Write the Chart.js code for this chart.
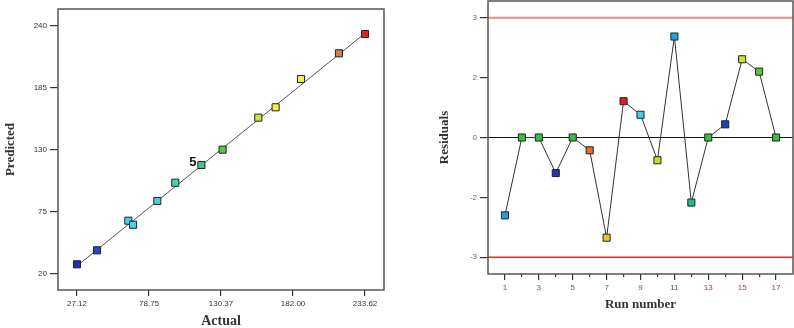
<!DOCTYPE html>
<html>
<head>
<meta charset="utf-8">
<script src="https://cdn.jsdelivr.net/npm/chart.js@4.4.1/dist/chart.umd.min.js"></script>
<style>
  html, body { margin: 0; padding: 0; background: #fff; }
  #wrap { position: relative; width: 794px; height: 328px; }
  #left { position: absolute; left: 0; top: 0; }
  #right { position: absolute; left: 400px; top: 0; }
</style>
</head>
<body>
<div id="wrap">
  <canvas id="left" width="400" height="328"></canvas>
  <canvas id="right" width="394" height="328"></canvas>
</div>
<script>
// Predicted vs. actual
const actual = [27.12, 41.5, 63.9, 67.3, 84.7, 97.6, 116.3, 131.5, 157.1, 169.5, 187.7, 214.9, 233.62];
const predicted = [28.6, 41.0, 67.3, 63.7, 84.8, 101.0, 116.7, 130.3, 158.7, 167.9, 193.0, 215.8, 232.9];
const pointColors = ['#1f2fb5', '#2a45c0', '#45d2e6', '#45d2e6', '#4ad0d0', '#45d8b8', '#3fc88a',
  '#55c845', '#c8e640', '#f2f040', '#f2ee4a', '#c8844a', '#e02424'];
const fitLine = [27.12, 233.62];
const actualTicks = [27.12, 78.75, 130.37, 182.00, 233.62];
const actualTickLabels = ['27.12', '78.75', '130.37', '182.00', '233.62'];
const predictedTicks = [20, 75, 130, 185, 240];
const replicateIndex = 6;
const replicateLabel = '5';

// Residuals vs. run
const runs = [1, 2, 3, 4, 5, 6, 7, 8, 9, 10, 11, 12, 13, 14, 15, 16, 17];
const residuals = [-1.95, 0, 0, -0.89, 0, -0.32, -2.51, 0.91, 0.57, -0.57, 2.53, -1.63, 0, 0.33, 1.96, 1.65, 0];
const runColors = ['#22a0e0', '#3cbf3c', '#3cbf3c', '#1f35a8', '#3cbf3c', '#e0702a', '#e6c822', '#d82020',
  '#48d0e0', '#c0e22a', '#22a0d8', '#22c080', '#3cbf3c', '#2240c0', '#d0e22a', '#5cc43c', '#3cbf3c'];
const residualTicks = [-3, -1.5, 0, 1.5, 3];
const residualTickLabels = ['-3', '-2', '0', '2', '3'];
const limitHigh = 3;
const limitLow = -3;

const serif = '"Liberation Serif", "DejaVu Serif", serif';
const sans = '"Liberation Sans", Arial, sans-serif';

// frame round the plot area
const boxPlugin = {
  id: 'box',
  afterDraw(chart) {
    const { ctx, chartArea } = chart;
    ctx.save();
    ctx.strokeStyle = '#555';
    ctx.lineWidth = 1.5;
    ctx.strokeRect(chartArea.left, chartArea.top, chartArea.right - chartArea.left, chartArea.bottom - chartArea.top);
    ctx.restore();
  }
};

// "5" next to the replicated design point
const replicatePlugin = {
  id: 'replicate',
  afterDatasetsDraw(chart) {
    const { ctx, scales } = chart;
    const x = scales.x.getPixelForValue(actual[replicateIndex]);
    const y = scales.y.getPixelForValue(predicted[replicateIndex]);
    ctx.save();
    ctx.fillStyle = '#111';
    ctx.font = 'bold 13px ' + sans;
    ctx.textAlign = 'right';
    ctx.textBaseline = 'middle';
    ctx.fillText(replicateLabel, x - 5, y - 3);
    ctx.restore();
  }
};

const fitX = (h) => (scale) => { scale.height = h; scale.paddingLeft = 0; scale.paddingRight = 0; };
const fitY = (w) => (scale) => { scale.width = w; scale.paddingTop = 0; scale.paddingBottom = 0; };

new Chart(document.getElementById('left'), {
  type: 'scatter',
  data: {
    datasets: [
      {
        type: 'line',
        data: fitLine.map(v => ({ x: v, y: v })),
        borderColor: '#555',
        borderWidth: 1,
        pointRadius: 0,
        order: 2
      },
      {
        data: actual.map((v, i) => ({ x: v, y: predicted[i] })),
        pointStyle: 'rect',
        pointRadius: 5,
        backgroundColor: pointColors,
        borderColor: '#222',
        borderWidth: 1,
        order: 1
      }
    ]
  },
  options: {
    responsive: false,
    animation: false,
    layout: { autoPadding: false, padding: { top: 9, right: 16, left: 0, bottom: 0 } },
    scales: {
      x: {
        type: 'linear',
        min: 13.5,
        max: 247.2,
        afterBuildTicks: (scale) => { scale.ticks = actualTicks.map(v => ({ value: v })); },
        afterFit: fitX(38),
        border: { display: false },
        grid: { drawOnChartArea: false, drawTicks: true, tickLength: 6, tickColor: '#333', lineWidth: 1.2 },
        ticks: {
          padding: 3,
          color: '#333',
          font: { family: sans, size: 8 },
          maxRotation: 0,
          callback: (value, i) => actualTickLabels[i]
        },
        title: {
          display: true,
          text: 'Actual',
          color: '#333',
          font: { family: serif, size: 14, weight: 'bold', lineHeight: 1 },
          padding: { top: 0, bottom: 0 }
        }
      },
      y: {
        type: 'linear',
        min: 5.8,
        max: 255.1,
        afterBuildTicks: (scale) => { scale.ticks = predictedTicks.map(v => ({ value: v })); },
        afterFit: fitY(58),
        border: { display: false },
        grid: { drawOnChartArea: false, drawTicks: true, tickLength: 8, tickColor: '#333', lineWidth: 1.2 },
        ticks: {
          padding: 3,
          color: '#333',
          font: { family: sans, size: 8 }
        },
        title: {
          display: true,
          text: 'Predicted',
          color: '#333',
          font: { family: serif, size: 13, weight: 'bold', lineHeight: 1.2 },
          padding: { top: 3, bottom: 0 }
        }
      }
    },
    plugins: { legend: { display: false }, tooltip: { enabled: false } }
  },
  plugins: [boxPlugin, replicatePlugin]
});

new Chart(document.getElementById('right'), {
  type: 'line',
  data: {
    datasets: [
      {
        data: runs.map((r, i) => ({ x: r, y: residuals[i] })),
        borderColor: '#333',
        borderWidth: 1,
        pointStyle: 'rect',
        pointRadius: 5,
        pointBackgroundColor: runColors,
        pointBorderColor: '#222',
        pointBorderWidth: 1,
        tension: 0,
        order: 1
      },
      {
        data: [{ x: 0, y: 0 }, { x: 18, y: 0 }],
        borderColor: '#111',
        borderWidth: 1,
        pointRadius: 0,
        order: 2
      },
      {
        data: [{ x: 0, y: limitHigh }, { x: 18, y: limitHigh }],
        borderColor: '#f08a8a',
        borderWidth: 2,
        pointRadius: 0,
        order: 3
      },
      {
        data: [{ x: 0, y: limitLow }, { x: 18, y: limitLow }],
        borderColor: '#e02a2a',
        borderWidth: 1.5,
        pointRadius: 0,
        order: 3
      }
    ]
  },
  options: {
    responsive: false,
    animation: false,
    layout: { autoPadding: false, padding: { top: 1, right: 1, left: 0, bottom: 0 } },
    scales: {
      x2: {
        type: 'linear',
        position: 'bottom',
        weight: 0,
        min: 0,
        max: 18,
        afterBuildTicks: (scale) => { scale.ticks = runs.filter(r => r % 2 === 0).map(v => ({ value: v })); },
        afterFit: fitX(0),
        border: { display: false },
        grid: { drawOnChartArea: false, drawTicks: true, tickLength: 3, tickColor: '#333', lineWidth: 1.2 },
        ticks: { display: false }
      },
      x: {
        type: 'linear',
        position: 'bottom',
        weight: 1,
        min: 0,
        max: 18,
        afterBuildTicks: (scale) => { scale.ticks = runs.filter(r => r % 2 === 1).map(v => ({ value: v })); },
        afterFit: fitX(54),
        border: { display: false },
        grid: { drawOnChartArea: false, drawTicks: true, tickLength: 6, tickColor: '#333', lineWidth: 1.2 },
        ticks: {
          padding: 3,
          color: '#8a4848',
          font: { family: sans, size: 8 },
          maxRotation: 0
        },
        title: {
          display: true,
          text: 'Run number',
          color: '#333',
          font: { family: serif, size: 13, weight: 'bold', lineHeight: 1.2 },
          padding: { top: 0, bottom: 16 }
        }
      },
      y: {
        type: 'linear',
        min: -3.42,
        max: 3.42,
        afterBuildTicks: (scale) => { scale.ticks = residualTicks.map(v => ({ value: v })); },
        afterFit: fitY(88),
        border: { display: false },
        grid: { drawOnChartArea: false, drawTicks: true, tickLength: 8, tickColor: '#333', lineWidth: 1.2 },
        ticks: {
          padding: 3,
          color: '#666',
          font: { family: sans, size: 8 },
          callback: (value) => residualTickLabels[residualTicks.indexOf(value)]
        },
        title: {
          display: true,
          text: 'Residuals',
          color: '#333',
          font: { family: serif, size: 13, weight: 'bold', lineHeight: 1.2 },
          padding: { top: 37, bottom: 0 }
        }
      }
    },
    plugins: { legend: { display: false }, tooltip: { enabled: false } }
  },
  plugins: [boxPlugin]
});
</script>
</body>
</html>
